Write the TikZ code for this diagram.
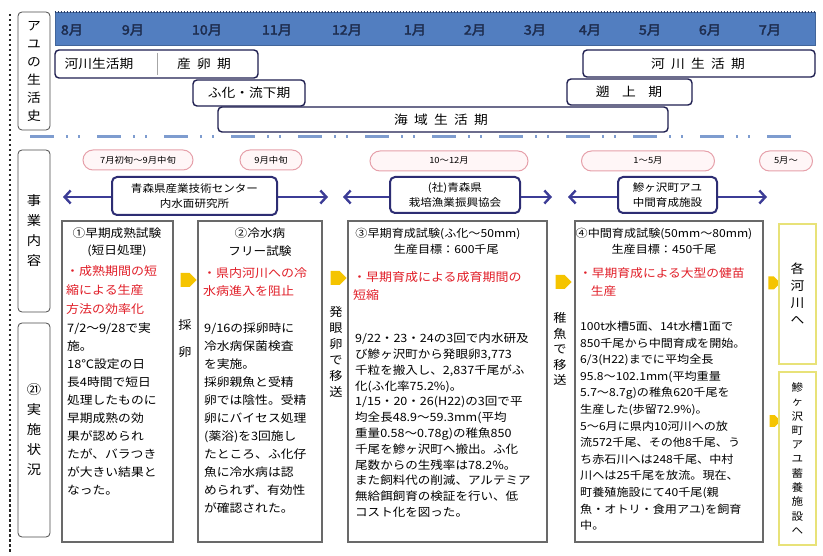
\documentclass[tikz,border=0pt]{standalone}
\usepackage{fontspec}
\setmainfont{Noto Sans CJK JP}[FakeStretch=1.1, BoldFont=*, BoldFeatures={FakeBold=2.5}]
\usepackage{xcolor}
\usepackage{tikz}
\usetikzlibrary{positioning,arrows.meta,shapes.arrows}
\definecolor{monthblue}{RGB}{82,126,192}
\definecolor{monthedge}{RGB}{40,60,105}
\definecolor{stageline}{RGB}{30,30,80}
\definecolor{sepblue}{RGB}{126,156,207}
\definecolor{orgline}{RGB}{45,45,115}
\definecolor{orgarrowc}{RGB}{60,60,150}
\definecolor{pillline}{RGB}{230,160,170}
\definecolor{pillfill}{RGB}{255,246,247}
\definecolor{boxline}{RGB}{105,105,105}
\definecolor{redtext}{RGB}{225,30,40}
\definecolor{arrowyellow}{RGB}{245,196,0}
\definecolor{sideyellow}{RGB}{232,226,120}

\begin{document}
\begin{tikzpicture}[x=1pt,y=-1pt,
    labelbox/.style={rectangle, rounded corners=4pt, draw=black!70, line width=0.8pt, fill=white, minimum width=32pt, align=center, inner sep=0pt, font=\fontsize{13}{20}\selectfont},
    month/.style={font=\fontsize{13}{15}\selectfont\bfseries, text=monthedge!75!black},
    stage/.style={rectangle, rounded corners=4pt, draw=stageline, line width=1.4pt, fill=white, inner sep=0pt},
    stagetext/.style={font=\fontsize{12.5}{15}\selectfont},
    pill/.style={rectangle, rounded corners=10pt, draw=pillline, line width=1pt, fill=pillfill, minimum height=20pt, inner sep=0pt, font=\fontsize{8.5}{10}\selectfont},
    org/.style={rectangle, rounded corners=5pt, draw=orgline, line width=2pt, fill=white, align=center, inner sep=0pt, font=\fontsize{10.5}{15}\selectfont},
    orgarrow/.style={-{Straight Barb[length=6pt,width=13pt]}, draw=orgarrowc, line width=2.4pt},
    cbox/.style={rectangle, draw=boxline, line width=1.8pt, fill=white, inner sep=0pt},
    title/.style={anchor=north, align=center, inner sep=0pt},
    redtxt/.style={anchor=north west, align=left, inner sep=0pt, text=redtext},
    bodytxt/.style={anchor=north west, align=left, inner sep=0pt},
    vlabel/.style={align=center, inner sep=0pt, font=\fontsize{12}{16}\selectfont},
    yarrow/.style={single arrow, single arrow head extend=0pt, shape border rotate=0, fill=arrowyellow, draw=none, minimum height=16pt, minimum width=14pt, inner sep=0pt},
    sidebox/.style={rectangle, draw=sideyellow, line width=1.5pt, fill=white, align=center, inner sep=0pt, minimum width=37pt}]

    \useasboundingbox (0,0) rectangle (823,556);

    % dotted frame line on the left
    \draw[black!85, line width=2.5pt, dash pattern=on 2.5pt off 2.5pt] (10,14) -- (10,552);

    % month bar
    \node[rectangle, fill=monthblue, draw=monthblue!80!black, line width=0.8pt, minimum width=760pt, minimum height=33pt, inner sep=0pt] (bar) at (435,29) {};
    \draw[monthedge, line width=1.4pt, dash pattern=on 1.5pt off 1.5pt] (bar.north west) -- (bar.north east);
    \foreach \m/\xm in {8/72, 9/133, 10/207, 11/277, 12/347, 1/415, 2/475, 3/535, 4/590, 5/650, 6/710, 7/770}
        \node[month] (m\m) at (\xm,30) {{\m}月};

    % life history of ayu
    \node[labelbox, minimum height=118pt, font=\fontsize{12.5}{18}\selectfont] (life) at (34,71) {ア\\ユ\\の\\生\\活\\史};

    \node[stage, minimum width=203pt, minimum height=28pt] (spawn) at (156.5,64) {};
    \draw[black!35, line width=0.6pt] (157,53) -- (157,75);
    \node[stagetext] (spawnA) at (99,64) {河川生活期};
    \node[stagetext] (spawnB) at (204,64) {産\enspace 卵\enspace 期};

    \node[stage, minimum width=232pt, minimum height=27pt] (river) at (699,63.5) {};
    \node[stagetext] (riverT) at (698,63.5) {河\enspace 川\enspace 生\enspace 活\enspace 期};

    \node[stage, minimum width=112pt, minimum height=26pt] (hatch) at (249,93) {};
    \node[stagetext] (hatchT) at (249,93) {ふ化・流下期};

    \node[stage, minimum width=125pt, minimum height=26pt] (upstr) at (629.5,92) {};
    \node[stagetext] (upstrT) at (629,92) {遡\enspace\enspace 上\enspace\enspace 期};

    \node[stage, minimum width=450pt, minimum height=25pt] (sea) at (443,119.5) {};
    \node[stagetext] (seaT) at (441,119.5) {海\enspace 域\enspace 生\enspace 活\enspace 期};

    % separator
    \draw[sepblue, line width=3pt, dash pattern=on 24pt off 12pt on 2pt off 10pt on 2pt off 17pt] (30,137) -- (797,137);

    % left labels
    \node[labelbox, minimum height=162pt] (work) at (34,231) {事\\業\\内\\容};
    \node[labelbox, minimum height=214pt] (state) at (34,430) {㉑\\実\\施\\状\\況};

    % periods
    \node[pill, minimum width=110pt] (p1) at (138,160) {7月初旬〜9月中旬};
    \node[pill, minimum width=62pt] (p2) at (271,160) {9月中旬};
    \node[pill, minimum width=158pt] (p3) at (449,161) {10〜12月};
    \node[pill, minimum width=133pt] (p4) at (648,161) {1〜5月};
    \node[pill, minimum width=53pt] (p5) at (786,161) {5月〜};

    % organisations
    \node[org, minimum width=165pt, minimum height=38pt] (org1) at (194.5,196) {青森県産業技術センター\\内水面研究所};
    \node[org, minimum width=130pt, minimum height=36pt] (org2) at (455,195) {(社)青森県\\栽培漁業振興協会};
    \node[org, minimum width=99pt, minimum height=36pt] (org3) at (667.5,195) {鰺ヶ沢町アユ\\中間育成施設};
    \coordinate (o1l) at (63,197);
    \coordinate (o1r) at (328,197);
    \coordinate (o2l) at (343,197);
    \coordinate (o2r) at (552,197);
    \coordinate (o3l) at (568,197);
    \coordinate (o3r) at (767,197);
    \draw[orgarrow] (org1.west |- o1l) -- (o1l);
    \draw[orgarrow] (org1.east |- o1r) -- (o1r);
    \draw[orgarrow] (org2.west |- o2l) -- (o2l);
    \draw[orgarrow] (org2.east |- o2r) -- (o2r);
    \draw[orgarrow] (org3.west |- o3l) -- (o3l);
    \draw[orgarrow] (org3.east |- o3r) -- (o3r);

    % test boxes
    \node[cbox, minimum width=111pt, minimum height=321pt] (box1) at (117.5,381.5) {};
    \node[cbox, minimum width=124pt, minimum height=321pt] (box2) at (260,381.5) {};
    \node[cbox, minimum width=199pt, minimum height=321pt] (box3) at (447.5,381.5) {};
    \node[cbox, minimum width=188pt, minimum height=321pt] (box4) at (669,381.5) {};

    % box 1
    \node[title, font=\fontsize{11.5}{17}\selectfont] (t1) at (117,228) {①早期成熟試験\\(短日処理)};
    \node[redtxt, font=\fontsize{11.8}{19}\selectfont] (r1) at (66,265) {・成熟期間の短\\縮による生産\\方法の効率化};
    \node[bodytxt, font=\fontsize{11.6}{18}\selectfont] (b1) at (67,323) {7/2〜9/28で実\\施。\\18℃設定の日\\長4時間で短日\\処理したものに\\早期成熟の効\\果が認められ\\たが、バラつき\\が大きい結果と\\なった。};

    % box 2
    \node[title, font=\fontsize{11.5}{18}\selectfont] (t2) at (260,228) {②冷水病\\フリー試験};
    \node[redtxt, font=\fontsize{11.8}{18}\selectfont] (r2) at (203,267) {・県内河川への冷\\水病進入を阻止};
    \node[bodytxt, font=\fontsize{11.6}{18}\selectfont] (b2) at (204,323) {9/16の採卵時に\\冷水病保菌検査\\を実施。\\採卵親魚と受精\\卵では陰性。受精\\卵にバイセス処理\\(薬浴)を3回施し\\たところ、ふ化仔\\魚に冷水病は認\\められず、有効性\\が確認された。};

    % box 3
    \node[title, font=\fontsize{11}{16}\selectfont] (t3) at (438,228) {③早期育成試験(ふ化〜50mm)\\\hspace*{1.5em}生産目標：600千尾};
    \node[redtxt, font=\fontsize{11.8}{18}\selectfont] (r3) at (353,271) {・早期育成による成育期間の\\短縮};
    \node[bodytxt, font=\fontsize{11.4}{15.8}\selectfont] (b3) at (355,333) {9/22・23・24の3回で内水研及\\び鰺ヶ沢町から発眼卵3,773\\千粒を搬入し、2,837千尾がふ\\化(ふ化率75.2\%)。\\1/15・20・26(H22)の3回で平\\均全長48.9〜59.3mm(平均\\重量0.58〜0.78g)の稚魚850\\千尾を鰺ヶ沢町へ搬出。ふ化\\尾数からの生残率は78.2\%。\\また飼料代の削減、アルテミア\\無給餌飼育の検証を行い、低\\コスト化を図った。};

    % box 4
    \node[title, font=\fontsize{11}{16}\selectfont] (t4) at (664,228) {④中間育成試験(50mm〜80mm)\\生産目標：450千尾};
    \node[redtxt, font=\fontsize{11.6}{18}\selectfont] (r4) at (579,268) {・早期育成による大型の健苗\\\hspace*{1em}生産};
    \node[bodytxt, font=\fontsize{11}{16.6}\selectfont] (b4) at (580,321) {100t水槽5面、14t水槽1面で\\850千尾から中間育成を開始。\\6/3(H22)までに平均全長\\95.8〜102.1mm(平均重量\\5.7〜8.7g)の稚魚620千尾を\\生産した(歩留72.9\%)。\\5〜6月に県内10河川への放\\流572千尾、その他8千尾、う\\ち赤石川へは248千尾、中村\\川へは25千尾を放流。現在、\\町養殖施設にて40千尾(親\\魚・オトリ・食用アユ)を飼育\\中。};

    % transfers between boxes
    \node[yarrow] (ya1) at (185,280) {};
    \node[yarrow] (ya2) at (335,278) {};
    \node[yarrow] (ya3) at (560,282) {};
    \node[yarrow, minimum height=12pt, minimum width=13pt] (ya4) at (771,283) {};
    \node[yarrow, minimum height=11pt, minimum width=12pt] (ya5) at (772,421) {};
    \node[vlabel, font=\fontsize{12}{27}\selectfont] (v1) at (185,338) {採\\卵};
    \node[vlabel] (v2) at (336,352) {発\\眼\\卵\\で\\移\\送};
    \node[vlabel, font=\fontsize{12}{15.5}\selectfont] (v3) at (560,349) {稚\\魚\\で\\移\\送};

    % destinations
    \node[sidebox, minimum height=140pt, font=\fontsize{12.5}{17}\selectfont] (dest1) at (797.5,294) {各\\河\\川\\へ};
    \node[sidebox, minimum height=173pt, font=\fontsize{10.5}{14.3}\selectfont] (dest2) at (797.5,458.5) {鰺\\ヶ\\沢\\町\\ア\\ユ\\蓄\\養\\施\\設\\へ};
\end{tikzpicture}
\end{document}
